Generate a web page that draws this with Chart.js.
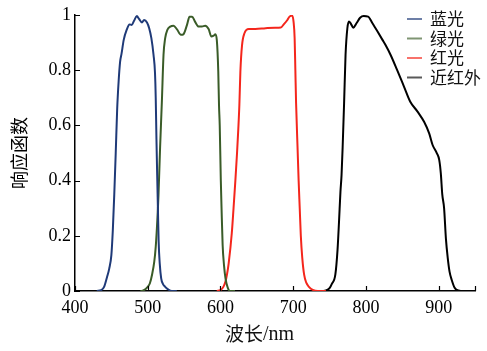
<!DOCTYPE html>
<html lang="zh">
<head>
<meta charset="UTF-8">
<title>响应函数</title>
<style>
  body { margin: 0; background: #fff; }
  canvas { display: block; }
</style>
</head>
<body>
<canvas id="respChart" width="487" height="351"></canvas>
<script src="https://cdn.jsdelivr.net/npm/chart.js"></script>
<script>
const bandNames = ["蓝光", "绿光", "红光", "近红外"];
const bandColors = ["#1f3a78", "#3a5c28", "#f4261c", "#000000"];

const blueNm  = [430, 436, 440, 444, 447, 450, 452, 454, 456, 458, 460, 462, 464, 467, 471, 475, 478, 481, 485, 488, 492, 495, 499, 502, 505, 508, 510, 511, 512, 513, 514, 515, 516.5, 518.5, 521, 524, 528, 533, 540];
const blueVal = [0, 0.003, 0.015, 0.05, 0.08, 0.13, 0.22, 0.35, 0.5, 0.66, 0.76, 0.83, 0.86, 0.91, 0.946, 0.966, 0.964, 0.978, 0.996, 0.986, 0.973, 0.982, 0.973, 0.952, 0.916, 0.855, 0.79, 0.7, 0.55, 0.42, 0.3, 0.18, 0.1, 0.046, 0.025, 0.015, 0.006, 0, 0];

const greenNm  = [490, 494, 500, 503, 506, 509, 511, 512.6, 514.8, 517, 519.5, 521.7, 524, 527, 531, 535.5, 540, 545.7, 549, 554, 557.5, 561, 565, 570, 574.6, 579, 583.7, 587.5, 590.6, 593, 595, 597, 598, 599, 600.5, 601.5, 603, 605, 607, 610, 613, 620];
const greenVal = [0, 0.002, 0.015, 0.028, 0.06, 0.106, 0.16, 0.227, 0.348, 0.52, 0.69, 0.855, 0.916, 0.946, 0.958, 0.961, 0.949, 0.928, 0.93, 0.964, 0.994, 0.994, 0.976, 0.958, 0.958, 0.961, 0.949, 0.922, 0.925, 0.93, 0.909, 0.795, 0.674, 0.6, 0.4, 0.3, 0.167, 0.09, 0.045, 0.012, 0, 0];

const redNm  = [595, 600, 604, 607, 609, 611.3, 615.6, 618, 620.5, 622.8, 624.6, 626, 627.4, 629.7, 633, 639, 648, 662, 675, 683, 687, 692, 695, 698.5, 700.5, 702, 703, 704, 706, 707.5, 709, 710.5, 712.5, 715, 718, 722, 727, 734, 745];
const redVal = [0, 0.003, 0.015, 0.035, 0.06, 0.1, 0.21, 0.3, 0.4, 0.5, 0.59, 0.674, 0.795, 0.891, 0.934, 0.949, 0.949, 0.952, 0.954, 0.955, 0.966, 0.982, 0.994, 0.998, 0.976, 0.916, 0.8, 0.68, 0.52, 0.4, 0.3, 0.2, 0.12, 0.06, 0.03, 0.014, 0.004, 0, 0];

const nirNm  = [740, 745, 750, 753, 758, 761, 763, 765, 766.5, 768, 770, 772, 774.5, 776.7, 779, 782.7, 787, 792, 797, 803, 809, 816, 823, 827, 834, 843, 852.5, 861, 871, 880, 887, 891.7, 897.6, 900.8, 903, 905, 907.5, 910, 912.5, 915, 918, 922, 927, 935, 945];
const nirVal = [0, 0.002, 0.01, 0.025, 0.06, 0.15, 0.25, 0.36, 0.42, 0.52, 0.68, 0.855, 0.952, 0.976, 0.97, 0.954, 0.97, 0.99, 0.996, 0.994, 0.97, 0.94, 0.909, 0.891, 0.855, 0.8, 0.74, 0.686, 0.65, 0.613, 0.571, 0.529, 0.499, 0.475, 0.426, 0.35, 0.3, 0.19, 0.12, 0.07, 0.04, 0.012, 0.002, 0, 0];

const xTickVals = [400, 500, 600, 700, 800, 900, 950];
const yTickVals = [0, 0.2, 0.4, 0.6, 0.8, 1];

const curves = [[blueNm, blueVal], [greenNm, greenVal], [redNm, redVal], [nirNm, nirVal]];

const serif = "'Liberation Serif', 'Times New Roman', serif";
const cjk = "'Noto Sans CJK SC', sans-serif";

// inward tick marks, legend box and x title
const extras = {
  id: "extras",
  afterDraw(chart) {
    const ctx = chart.ctx;
    const xs = chart.scales.x, ys = chart.scales.y;
    const area = chart.chartArea;
    ctx.save();
    ctx.strokeStyle = "#000";
    ctx.lineWidth = 1.2;
    ctx.beginPath();
    xTickVals.forEach(v => {
      const px = Math.round(xs.getPixelForValue(v)) + 0.5;
      ctx.moveTo(px, area.bottom);
      ctx.lineTo(px, area.bottom - 5);
    });
    yTickVals.forEach(v => {
      const py = Math.round(ys.getPixelForValue(v)) + 0.5;
      ctx.moveTo(area.left, py);
      ctx.lineTo(area.left + 5, py);
    });
    ctx.stroke();

    // legend
    ctx.font = "17px " + cjk;
    ctx.textBaseline = "middle";
    ctx.textAlign = "left";
    bandNames.forEach((name, i) => {
      const y = 19 + i * 19.5;
      ctx.globalAlpha = 0.65;
      ctx.strokeStyle = bandColors[i];
      ctx.lineWidth = 2;
      ctx.beginPath();
      ctx.moveTo(407, y);
      ctx.lineTo(422, y);
      ctx.stroke();
      ctx.globalAlpha = 1;
      ctx.fillStyle = "#111";
      ctx.fillText(name, 430, y);
    });

    // x axis title
    ctx.font = "19px " + cjk;
    ctx.textAlign = "right";
    ctx.fillText("波长", 263, 334);
    ctx.textAlign = "left";
    ctx.font = "20px " + serif;
    ctx.fillText("/nm", 263, 335);
    ctx.restore();
  }
};

const ctx = document.getElementById("respChart").getContext("2d");

new Chart(ctx, {
  type: "line",
  data: {
    datasets: curves.map((c, i) => ({
      label: bandNames[i],
      data: c[0].map((nm, k) => ({ x: nm, y: c[1][k] })),
      borderColor: bandColors[i],
      borderWidth: 2,
      pointRadius: 0,
      fill: false,
      cubicInterpolationMode: "monotone"
    }))
  },
  options: {
    responsive: false,
    animation: false,
    layout: { padding: { top: 15, right: 12, left: 0, bottom: 0 } },
    plugins: { legend: { display: false }, tooltip: { enabled: false } },
    scales: {
      x: {
        type: "linear",
        min: 400,
        max: 950,
        afterBuildTicks: s => { s.ticks = xTickVals.map(v => ({ value: v })); },
        afterFit: s => { s.height = 60; },
        grid: { display: true, drawOnChartArea: false, drawTicks: false },
        border: { color: "#000", width: 1.5 },
        ticks: {
          padding: 6,
          color: "#000",
          font: { family: serif, size: 18 },
          callback: v => (v === 950 ? "" : v)
        }
      },
      y: {
        min: 0,
        max: 1,
        afterBuildTicks: s => { s.ticks = yTickVals.map(v => ({ value: v })); },
        afterFit: s => { s.width = 75; },
        grid: { display: true, drawOnChartArea: false, drawTicks: false },
        border: { color: "#000", width: 1.5 },
        title: {
          display: true,
          text: "响应函数",
          color: "#000",
          font: { family: cjk, size: 18 },
          padding: { top: 8, bottom: 0 }
        },
        ticks: {
          padding: 4,
          color: "#000",
          font: { family: serif, size: 18 },
          callback: v => String(v)
        }
      }
    }
  },
  plugins: [extras]
});
</script>
</body>
</html>
